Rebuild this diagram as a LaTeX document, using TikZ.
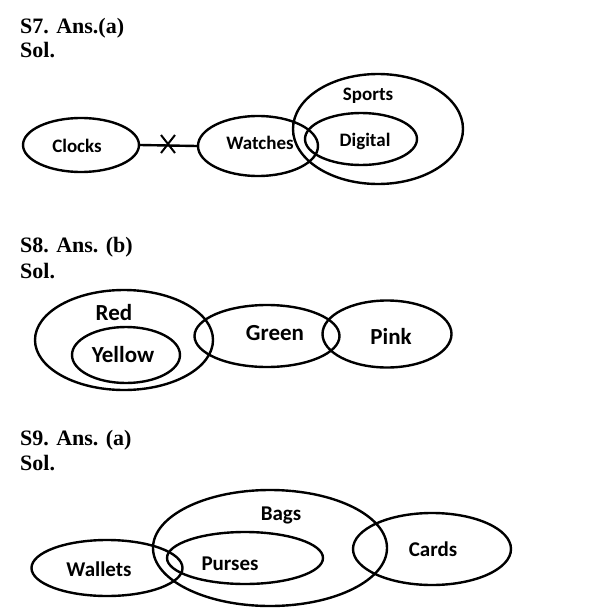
\documentclass[tikz,border=0pt]{standalone}
\usepackage{fontspec}
\setmainfont{Liberation Serif}
\newfontfamily\lblfont{Carlito}
\usetikzlibrary{shapes.geometric,calc}
\tikzset{
  ell/.style={draw, ellipse, line width=2.4pt, inner sep=0pt},
  lbl/.style={font=\lblfont\bfseries\fontsize{19}{21}\selectfont, inner sep=0pt},
  lblb/.style={lbl, font=\lblfont\bfseries\fontsize{23}{25}\selectfont},
  lblc/.style={lbl, font=\lblfont\bfseries\fontsize{21}{23}\selectfont},
  head/.style={font=\bfseries\fontsize{22}{25}\selectfont, anchor=base west, inner sep=0pt},
}
\begin{document}
\begin{tikzpicture}[x=1pt,y=-1pt]
\useasboundingbox (0,0) rectangle (592,608);
% S7
\node[head] (h7) at (20,33) {S7. Ans.(a)};
\node[head] (s7) at (20,57) {Sol.};
\node[ell, minimum width=116, minimum height=54] (clocks) at (81,145) {};
\node[ell, minimum width=120, minimum height=60] (watches) at (258,146) {};
\node[ell, minimum width=170, minimum height=110] (sports) at (378,129) {};
\node[ell, minimum width=112, minimum height=52] (digital) at (361,139) {};
\draw[line width=2.4pt] (clocks.east) -- (watches.west);
\coordinate (xm) at (168,144);
\draw[line width=2pt] ($(xm)+(-7,-9)$) -- ($(xm)+(7,9)$);
\draw[line width=2pt] ($(xm)+(7,-9)$) -- ($(xm)+(-7,9)$);
\node[lbl] (lclocks) at (77,146) {Clocks};
\node[lbl] (lwatches) at (260,143) {Watches};
\node[lbl] (lsports) at (368,96) {Sports};
\node[lbl] (ldigital) at (365,141) {Digital};
% S8
\node[head] (h8) at (20,252) {S8. Ans. (b)};
\node[head] (s8) at (20,278) {Sol.};
\node[ell, minimum width=178, minimum height=100] (red) at (124,340) {};
\node[ell, minimum width=108, minimum height=56] (yellow) at (126,355) {};
\node[ell, minimum width=145, minimum height=62] (green) at (267,336) {};
\node[ell, minimum width=129, minimum height=67] (pink) at (387,334) {};
\node[lblb] (lred) at (114,313) {Red};
\node[lblb] (lyellow) at (123,355) {Yellow};
\node[lblb] (lgreen) at (275,333) {Green};
\node[lblb] (lpink) at (391,336) {Pink};
% S9
\node[head] (h9) at (20,445) {S9. Ans. (a)};
\node[head] (s9) at (20,470) {Sol.};
\node[ell, minimum width=151, minimum height=56] (wallets) at (107,568) {};
\node[ell, minimum width=234, minimum height=116] (bags) at (270,548) {};
\node[ell, minimum width=156, minimum height=52] (purses) at (245,558) {};
\node[ell, minimum width=158, minimum height=72] (cards) at (432,549) {};
\node[lblc] (lbags) at (281,515) {Bags};
\node[lblc] (lpurses) at (230,564) {Purses};
\node[lblc] (lcards) at (433,549) {Cards};
\node[lblc] (lwallets) at (99,569) {Wallets};
\end{tikzpicture}
\end{document}
